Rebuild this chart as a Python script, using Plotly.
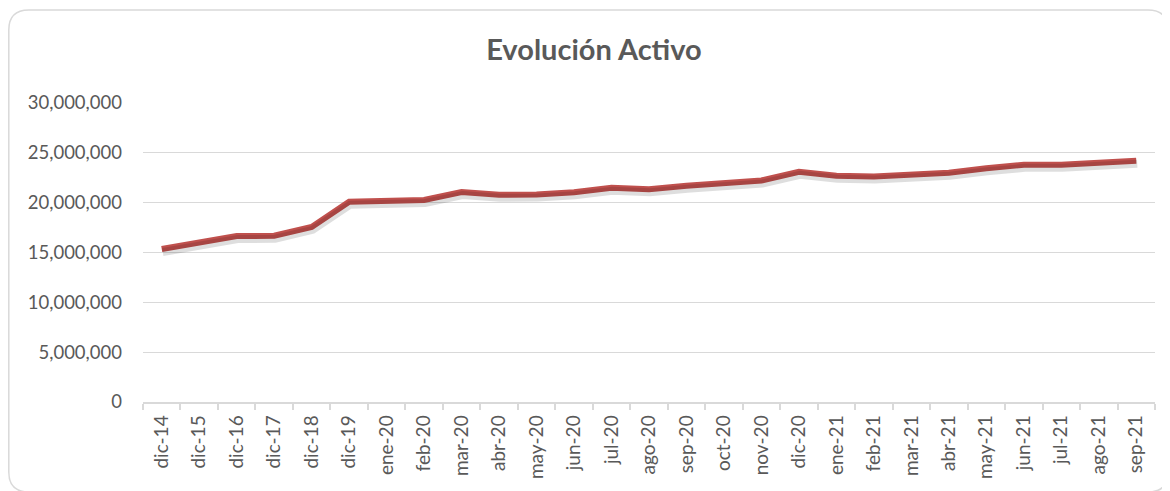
import plotly.graph_objects as go

categories = ["dic-14", "dic-15", "dic-16", "dic-17", "dic-18", "dic-19", "ene-20", "feb-20",
              "mar-20", "abr-20", "may-20", "jun-20", "jul-20", "ago-20", "sep-20", "oct-20",
              "nov-20", "dic-20", "ene-21", "feb-21", "mar-21", "abr-21", "may-21", "jun-21",
              "jul-21", "ago-21", "sep-21"]
activo = [15350000, 16000000, 16650000, 16680000, 17570000, 20100000, 20150000, 20270000,
          21070000, 20800000, 20820000, 21050000, 21500000, 21350000, 21700000, 21930000,
          22230000, 23100000, 22700000, 22620000, 22800000, 23000000, 23450000, 23800000,
          23800000, 23930000, 24200000]
y_ticks = [0, 5000000, 10000000, 15000000, 20000000, 25000000, 30000000]

# the page body has an 8px margin, so the figure is drawn 8px smaller
W, H = 1162, 483
ML, MR, MT, MB = 135, 15, 95, 89
pw = W - ML - MR
ph = H - MT - MB
YMAX = 30000000
px_y = YMAX / ph
px_x = len(categories) / pw

text_col = "#595959"
grid_col = "#D9D9D9"
font_fam = "Lato, 'Open Sans', sans-serif"

fig = go.Figure()
# soft shadow under the line (same data, on an axis shifted by a few pixels)
fig.add_trace(go.Scatter(x=list(range(len(categories))), y=activo, mode="lines",
                         line=dict(color="rgba(0,0,0,0.13)", width=8),
                         xaxis="x2", yaxis="y2", hoverinfo="skip", showlegend=False))
fig.add_trace(go.Scatter(x=categories, y=activo, mode="lines",
                         line=dict(color="#C0504D", width=6), name="Activo",
                         showlegend=False))

fig.update_layout(
    width=W, height=H,
    margin=dict(l=ML, r=MR, t=MT, b=MB),
    paper_bgcolor="white", plot_bgcolor="white",
    font=dict(family=font_fam, color=text_col, size=18),
    title=dict(text="<b>Evolución Activo</b>", x=586 / W, xref="container", xanchor="center",
               y=1 - 42 / H, yref="container", yanchor="middle",
               font=dict(size=29, color=text_col, family=font_fam)),
    xaxis=dict(type="category", categoryorder="array", categoryarray=categories,
               range=[-0.5, len(categories) - 0.5],
               showline=True, linecolor=grid_col, linewidth=1.5,
               ticks="outside", tickson="boundaries", ticklen=6, tickcolor=grid_col,
               tickwidth=1.5, ticklabelstandoff=4,
               tickangle=-90, showgrid=False, tickfont=dict(size=19, color=text_col),
               fixedrange=True),
    yaxis=dict(range=[0, YMAX], tickvals=y_ticks, tickformat=",d",
               showgrid=True, gridcolor=grid_col, gridwidth=1,
               showline=False, zeroline=False, ticks="",
               ticklabelstandoff=20, tickfont=dict(size=18.5, color=text_col),
               fixedrange=True),
    xaxis2=dict(overlaying="x", range=[-0.5 - 1 * px_x, len(categories) - 0.5 - 1 * px_x],
                visible=False, fixedrange=True),
    yaxis2=dict(overlaying="y", range=[3 * px_y, YMAX + 3 * px_y], visible=False,
                fixedrange=True),
)

# rounded chart border
def px2paper_x(p):
    return (p - ML) / pw

def px2paper_y(p):
    return (H - MB - p) / ph

x0, x1, y0, y1, r = 0.8, 1160, 2, 484, 20
pts = [
    f"M {px2paper_x(x0 + r)},{px2paper_y(y0)}",
    f"L {px2paper_x(x1 - r)},{px2paper_y(y0)}",
    f"Q {px2paper_x(x1)},{px2paper_y(y0)} {px2paper_x(x1)},{px2paper_y(y0 + r)}",
    f"L {px2paper_x(x1)},{px2paper_y(y1 - r)}",
    f"Q {px2paper_x(x1)},{px2paper_y(y1)} {px2paper_x(x1 - r)},{px2paper_y(y1)}",
    f"L {px2paper_x(x0 + r)},{px2paper_y(y1)}",
    f"Q {px2paper_x(x0)},{px2paper_y(y1)} {px2paper_x(x0)},{px2paper_y(y1 - r)}",
    f"L {px2paper_x(x0)},{px2paper_y(y0 + r)}",
    f"Q {px2paper_x(x0)},{px2paper_y(y0)} {px2paper_x(x0 + r)},{px2paper_y(y0)}",
    "Z",
]
fig.add_shape(type="path", path=" ".join(pts), xref="paper", yref="paper",
              line=dict(color=grid_col, width=1.5), layer="below")

fig.write_html("out.html")
